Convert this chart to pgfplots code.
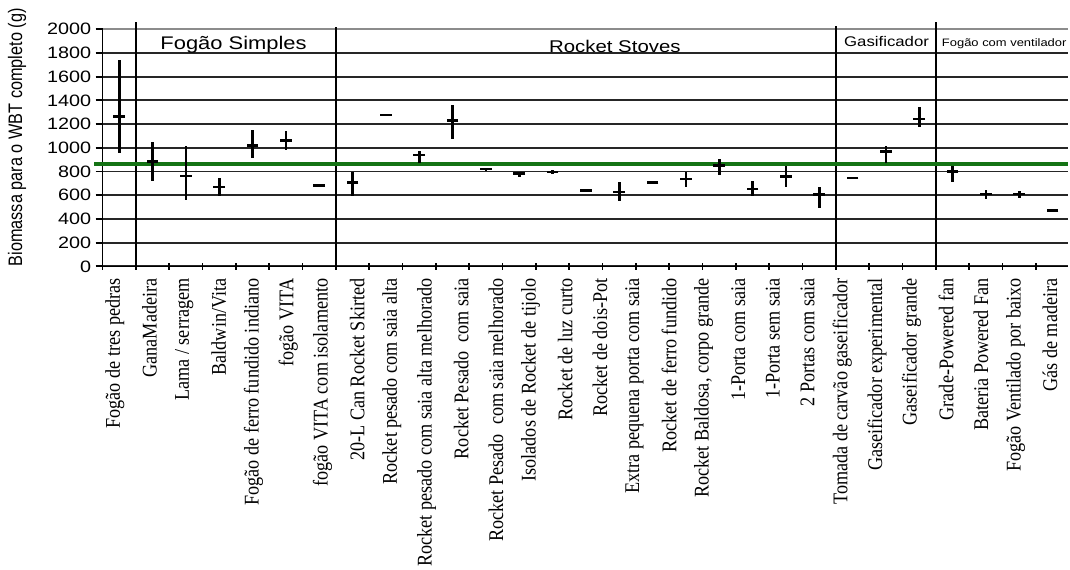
\documentclass[border=0pt]{standalone}
\usepackage{pgfplots}
\pgfplotsset{compat=1.18}
\usepackage{pgfplotstable}
\usepackage{graphicx}
\usepackage{fontspec}
\setmainfont{Liberation Serif}
\newfontfamily\sansS[FakeStretch=1.2]{Liberation Sans}
\newfontfamily\sansN{Liberation Sans}
\definecolor{gline}{RGB}{20,115,20}
\newcommand\xl[1]{\scalebox{1}[1.15]{#1}}

\pgfplotstableread{
x y ep em
0.5 1265 475 310
1.5 882 163 163
2.5 762 255 200
3.5 670 75 75
4.5 1017 129 104
5.5 1062 76 84
6.5 680 8 8
7.5 708 92 118
8.5 1278 6 6
9.5 938 31 67
10.5 1230 132 157
11.5 820 12 12
12.5 781 19 28
13.5 795 15 15
14.5 640 5 5
15.5 626 82 78
16.5 708 10 10
17.5 736 56 68
18.5 851 53 79
19.5 654 62 64
20.5 758 85 90
21.5 604 64 113
22.5 744 5 5
23.5 969 42 98
24.5 1242 101 68
25.5 800 48 92
26.5 610 30 43
27.5 610 22 34
28.5 469 5 5
}\data

\begin{document}
\begin{tikzpicture}
\begin{axis}[
  scale only axis,
  width=967pt, height=237.4pt,
  xmin=0, xmax=28.97, ymin=0, ymax=2000,
  clip=false,
  axis x line*=bottom, axis y line*=left,
  axis line style={-, black, line width=1.3pt},
  ytick={0,200,...,1800},
  extra y ticks={2000},
  extra y tick style={major grid style={black!45, line width=1.8pt}},
  ymajorgrids,
  major grid style={black!85, line width=1.9pt},
  ytick align=outside,
  major tick length=7pt,
  tick style={black, line width=1.8pt},
  yticklabel style={font=\sansS\fontsize{16.5}{18}\selectfont, xshift=-1pt},
  /pgf/number format/assume math mode=true,
  /pgf/number format/1000 sep={},
  xtick={0,...,28},
  xticklabels={,,,,,,,,,,,,,,,,,,,,,,,,,,,,,},
  xtick align=center,
  extra x ticks={0.37,1.41,2.45,3.49,4.53,5.57,6.60,7.64,8.68,9.72,10.76,11.80,12.84,13.88,14.92,15.96,17.00,18.03,19.07,20.11,21.15,22.19,23.23,24.27,25.31,26.35,27.39,28.42},
  extra x tick labels={
    {\xl{Fogão de tres pedras}},
    {\xl{GanaMadeira}},
    {\xl{Lama / serragem}},
    {\xl{Baldwin/Vita}},
    {\xl{Fogão de ferro fundido indiano}},
    {\xl{fogão VITA}},
    {\xl{fogão VITA com isolamento}},
    {\xl{20-L Can Rocket Skirted}},
    {\xl{Rocket pesado com saia alta}},
    {\xl{Rocket pesado com saia alta melhorado}},
    {\xl{Rocket Pesado\ \ com saia}},
    {\xl{Rocket Pesado\ \ com saia melhorado}},
    {\xl{Isolados de Rocket de tijolo}},
    {\xl{Rocket de luz curto}},
    {\xl{Rocket de dois-Pot}},
    {\xl{Extra pequena porta com saia}},
    {\xl{Rocket de ferro fundido}},
    {\xl{Rocket Baldosa, corpo grande}},
    {\xl{1-Porta com saia}},
    {\xl{1-Porta sem saia}},
    {\xl{2 Portas com saia}},
    {\xl{Tomada de carvão gaseificador}},
    {\xl{Gaseificador experimental}},
    {\xl{Gaseificador grande}},
    {\xl{Grade-Powered fan}},
    {\xl{Bateria Powered Fan}},
    {\xl{Fogão Ventilado por baixo}},
    {\xl{Gás de madeira}}},
  extra x tick style={major tick length=0pt,
    xticklabel style={rotate=90, anchor=east, font=\fontsize{18.2}{20}\selectfont, inner sep=0pt, xshift=-12pt}},
  ylabel={\scalebox{1}[1.2]{Biomassa para o WBT completo (g)}},
  ylabel style={font=\sansN\fontsize{16.3}{18}\selectfont, at={(ticklabel cs:0.544)}},
]
\coordinate (O) at (rel axis cs:0,0);
\addplot[black, line width=1.8pt] coordinates {(1,0) (1,2065)};
\addplot[black, line width=1.8pt] coordinates {(7,0) (7,2020)};
\addplot[black, line width=1.8pt] coordinates {(22,0) (22,2025)};
\addplot[black, line width=1.8pt] coordinates {(25,0) (25,2065)};
\addplot[gline, line width=3.6pt] coordinates {(-0.25,865) (28.97,865)};
\addplot[black, line width=2.6pt, only marks, mark=-, mark size=5.8pt,
  error bars/.cd, y dir=both, y explicit, error mark=none,
  error bar style={line width=2.6pt}]
  table[x=x, y=y, y error plus=ep, y error minus=em] {\data};
\node[font=\sansS\fontsize{18.3}{20}\selectfont, anchor=base] at (axis cs:3.93,1831) {Fogão Simples};
\node[font=\sansS\fontsize{17}{19}\selectfont, anchor=base] at (axis cs:15.37,1805) {Rocket Stoves};
\node[font=\sansS\fontsize{14}{16}\selectfont, anchor=base] at (axis cs:23.52,1853) {Gasificador};
\node[font=\sansS\fontsize{10.8}{12}\selectfont, anchor=base] at (axis cs:27.05,1853) {Fogão com ventilador};
\end{axis}
\path (O) ++(-102.7pt,-303.3pt) rectangle ++(1070pt,570pt);
\end{tikzpicture}
\end{document}
